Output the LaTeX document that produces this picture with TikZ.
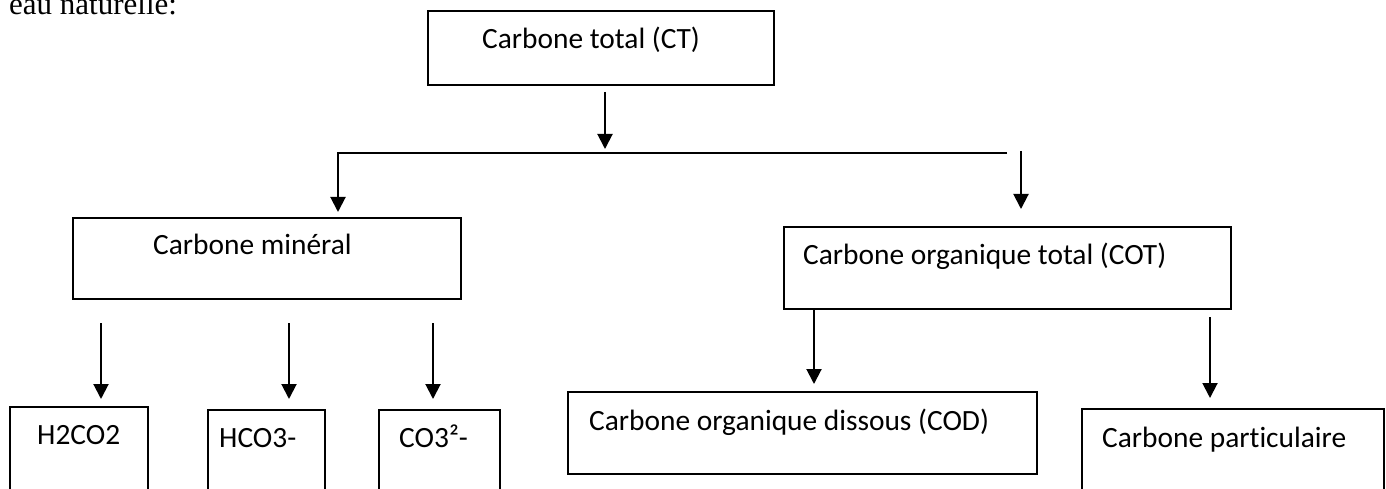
\documentclass[tikz,border=0pt]{standalone}
\usepackage{fontspec}
\setmainfont{Carlito}[Ligatures={NoCommon}]
\newfontfamily\timesfont{Liberation Serif}
\usetikzlibrary{arrows.meta}
\begin{document}
\begin{tikzpicture}[x=1pt,y=-1pt,
  box/.style={draw, line width=2pt, rectangle, inner sep=0pt, anchor=north west},
  lbl/.style={anchor=base west, inner sep=0pt, font=\fontsize{29.4}{34}\selectfont},
  arr/.style={line width=2pt, -{Triangle[width=15pt,length=15pt]}},
  ln/.style={line width=2pt}]
\useasboundingbox (0,0) rectangle (1386,489);
\clip (0,0) rectangle (1386,489);
% heading fragment
\node[anchor=base west, inner sep=0pt, font=\timesfont\fontsize{31}{36}\selectfont] (head) at (9,15) {eau naturelle:};
% boxes
\node[box, minimum width=346pt, minimum height=74pt] (ct) at (427,10) {};
\node[box, minimum width=388pt, minimum height=81pt] (cm) at (72,217) {};
\node[box, minimum width=447pt, minimum height=82pt] (cot) at (783,226) {};
\node[box, minimum width=138pt, minimum height=120pt] (h2) at (9,406) {};
\node[box, minimum width=117pt, minimum height=120pt] (hco) at (207,409) {};
\node[box, minimum width=121pt, minimum height=120pt] (co) at (378,409) {};
\node[box, minimum width=469pt, minimum height=82pt] (cod) at (567,391) {};
\node[box, minimum width=302pt, minimum height=120pt] (cp) at (1081,408) {};
% labels
\node[lbl] (tct) at (482,49) {Carbone total (CT)};
\node[lbl] (tcm) at (153,254) {Carbone minéral};
\node[lbl] (tcot) at (803,264) {Carbone organique total (COT)};
\node[lbl] (th2) at (37,444) {H2CO2};
\node[lbl] (thco) at (219,447) {HCO3-};
\node[lbl] (tco) at (399,447) {CO3²-};
\node[lbl] (tcod) at (589,430) {Carbone organique dissous (COD)};
\node[lbl] (tcp) at (1102,447) {Carbone particulaire};
% connector points
\coordinate (a1s) at (605,92);
\coordinate (a1e) at (605,149);
\coordinate (hR) at (1007,153);
\coordinate (hL) at (338,153);
\coordinate (aLe) at (338,212);
\coordinate (aRs) at (1021,151);
\coordinate (aRe) at (1021,209);
\coordinate (b1s) at (101,323);
\coordinate (b1e) at (101,399);
\coordinate (b2s) at (289,323);
\coordinate (b2e) at (289,399);
\coordinate (b3s) at (433,323);
\coordinate (b3e) at (433,399);
\coordinate (c1s) at (814,308);
\coordinate (c1e) at (814,384);
\coordinate (c2s) at (1210,317);
\coordinate (c2e) at (1210,398);
% connectors
\draw[arr] (a1s) -- (a1e);
\draw[arr] (hR) -- (hL) -- (aLe);
\draw[arr] (aRs) -- (aRe);
\draw[arr] (b1s) -- (b1e);
\draw[arr] (b2s) -- (b2e);
\draw[arr] (b3s) -- (b3e);
\draw[arr] (c1s) -- (c1e);
\draw[arr] (c2s) -- (c2e);
\end{tikzpicture}
\end{document}
